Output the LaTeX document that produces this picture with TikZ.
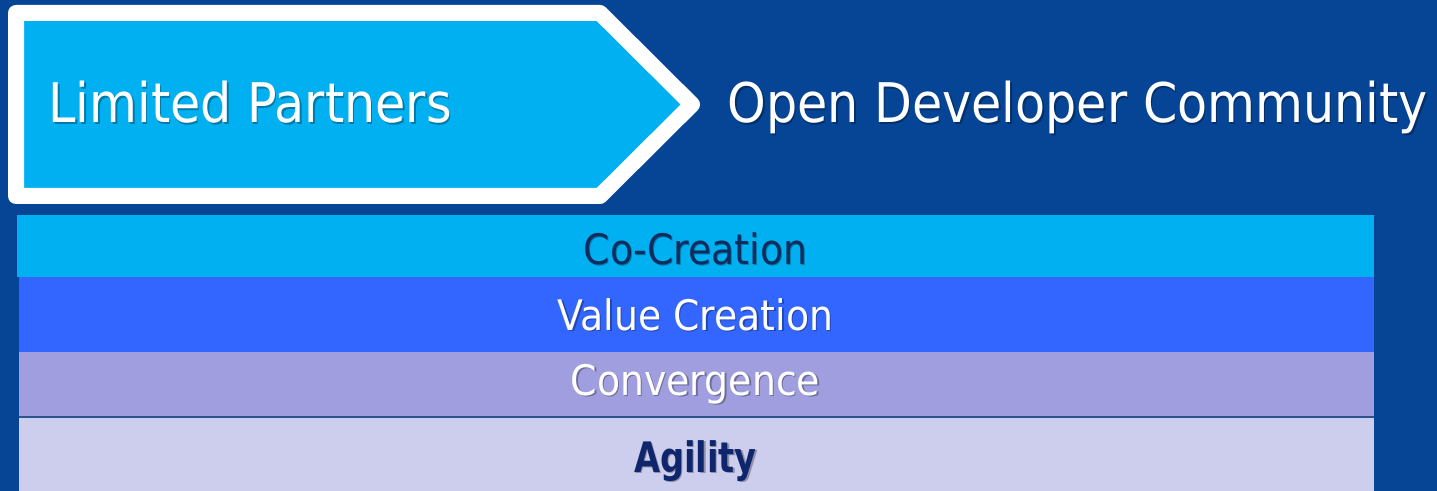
\documentclass[tikz,border=0pt]{standalone}
\usepackage{fontspec}
\setmainfont{DejaVu Sans Condensed}[BoldFont={DejaVu Sans Condensed Bold}]

\definecolor{bgblue}{RGB}{6,68,150}
\definecolor{lpcyan}{RGB}{0,176,240}
\definecolor{valblue}{RGB}{51,102,255}
\definecolor{convlav}{RGB}{160,158,222}
\definecolor{agilav}{RGB}{205,206,238}
\definecolor{cotext}{RGB}{14,44,94}
\definecolor{agitext}{RGB}{16,38,108}
\definecolor{seam}{RGB}{44,84,140}

\tikzset{every picture/.style={line width=0.75pt}}
\tikzset{
  titletxt/.style={anchor=base west, inner sep=0pt, text=white, font=\fontsize{41}{49}\selectfont},
  bandtxt/.style={anchor=base, inner sep=0pt, font=\fontsize{31.5}{38}\selectfont},
  shade/.style={text=black, text opacity=0.3}
}

\begin{document}
\begin{tikzpicture}[x=0.75pt,y=0.75pt,yscale=-1,xscale=1]
\useasboundingbox (0,0) rectangle (1437,491);

%Background
\fill [bgblue] (0,0) rectangle (1437,491);

%Shape: Pentagon arrow
\draw [draw=white, line width=12pt, line join=round, fill=lpcyan] (16,13) -- (600,13) -- (692,104.5) -- (600,196) -- (16,196) -- cycle ;

%Shape: Bands
\fill [lpcyan] (17,215) rectangle (1374,277);
\fill [valblue] (19,277) rectangle (1374,352);
\fill [convlav] (19,352) rectangle (1374,416);
\fill [agilav] (19,418) rectangle (1374,491);
%Straight Lines
\draw [seam, line width=1.5pt] (19,417) -- (1374,417) ;

% Text Node
\node [titletxt, shade] (lp-sh) at (49.5,124.5) {Limited Partners};
\node [titletxt] (lp) at (48,123) {Limited Partners};
% Text Node
\node [titletxt, shade] (odc-sh) at (728.5,124.5) {Open Developer Community};
\node [titletxt] (odc) at (727,123) {Open Developer Community};

% Text Node
\node [bandtxt, shade] (co-sh) at (696.5,266) {Co-Creation};
\node [bandtxt, text=cotext] (co) at (695.5,265) {Co-Creation};
% Text Node
\node [bandtxt, shade] (val-sh) at (697,331.5) {Value Creation};
\node [bandtxt, text=white] (val) at (695.5,330) {Value Creation};
% Text Node
\node [bandtxt, shade] (conv-sh) at (697,396.5) {Convergence};
\node [bandtxt, text=white] (conv) at (695.5,395) {Convergence};
% Text Node
\node [bandtxt, shade, font=\fontsize{31.5}{38}\selectfont\bfseries] (agi-sh) at (697,473.5) {\scalebox{0.89}[1]{Agility}};
\node [bandtxt, text=agitext, font=\fontsize{31.5}{38}\selectfont\bfseries] (agi) at (695.5,472) {\scalebox{0.89}[1]{Agility}};

\end{tikzpicture}
\end{document}
